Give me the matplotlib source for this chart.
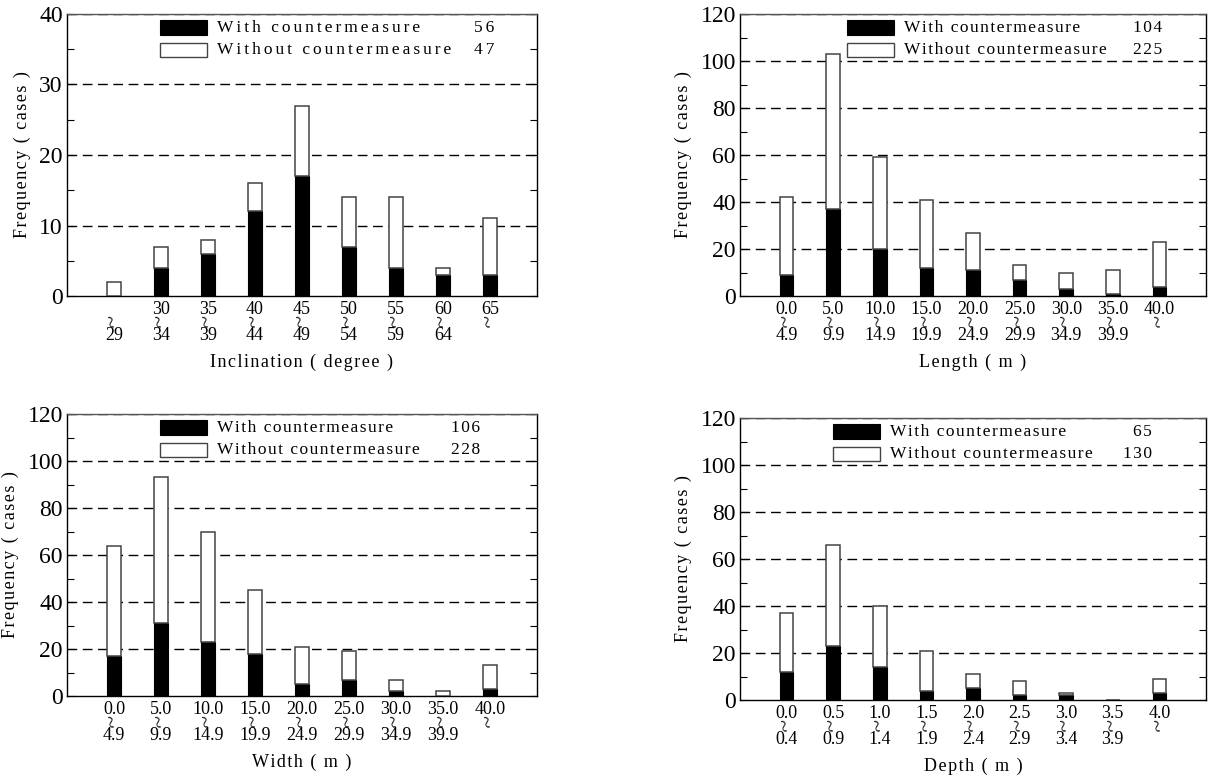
import matplotlib
matplotlib.use("Agg")
import matplotlib.pyplot as plt
from matplotlib.patches import Rectangle
from matplotlib.ticker import MultipleLocator, NullFormatter

plt.rcParams['font.family'] = ['Liberation Serif', 'DejaVu Serif']

# inclination
incl_labels = [("", "29"), ("30", "34"), ("35", "39"), ("40", "44"), ("45", "49"),
               ("50", "54"), ("55", "59"), ("60", "64"), ("65", "")]
incl_with = [0, 4, 6, 12, 17, 7, 4, 3, 3]
incl_total = [2, 7, 8, 16, 27, 14, 14, 4, 11]

# length
len_labels = [("0.0", "4.9"), ("5.0", "9.9"), ("10.0", "14.9"), ("15.0", "19.9"),
              ("20.0", "24.9"), ("25.0", "29.9"), ("30.0", "34.9"), ("35.0", "39.9"),
              ("40.0", "")]
len_with = [9, 37, 20, 12, 11, 7, 3, 1, 4]
len_total = [42, 103, 59, 41, 27, 13, 10, 11, 23]

# width
wid_labels = len_labels
wid_with = [17, 31, 23, 18, 5, 7, 2, 0, 3]
wid_total = [64, 93, 70, 45, 21, 19, 7, 2, 13]

# depth
dep_labels = [("0.0", "0.4"), ("0.5", "0.9"), ("1.0", "1.4"), ("1.5", "1.9"),
              ("2.0", "2.4"), ("2.5", "2.9"), ("3.0", "3.4"), ("3.5", "3.9"),
              ("4.0", "")]
dep_with = [12, 23, 14, 4, 5, 2, 2, 0, 3]
dep_total = [37, 66, 40, 21, 11, 8, 3, 0, 9]

W, H = 1208, 776
fig = plt.figure(figsize=(W / 100, H / 100), dpi=100)


def spaced(s, n=1):
    return ("\u200a" * n).join(s)


def panel(box, labels, with_cm, total, ymax, major, xlabel, legx, numx, legn):
    l, r, t, b = box
    ax = fig.add_axes([l / W, 1 - b / H, (r - l) / W, (b - t) / H])
    without = [tt - w for tt, w in zip(total, with_cm)]
    x = list(range(1, len(labels) + 1))
    ax.bar(x, with_cm, width=0.29, color="black", edgecolor="black", linewidth=0.8, zorder=3)
    ax.bar(x, without, bottom=with_cm, width=0.29, color="white",
           edgecolor="#444444", linewidth=1.1, zorder=3)
    ax.set_xlim(0, 10)
    ax.set_ylim(0, ymax)
    ax.yaxis.set_major_locator(MultipleLocator(major))
    ax.yaxis.set_minor_locator(MultipleLocator(major / 2))
    for yv in range(major, ymax + 1, major):
        ax.axhline(yv, color="black", lw=1.0, ls=(0, (7, 4)), zorder=1)
    ax.tick_params(axis="y", which="both", direction="in", right=True, length=5,
                   width=0.8, labelsize=17, pad=3)
    ax.set_xticks(x)
    ax.xaxis.set_major_formatter(NullFormatter())
    ax.tick_params(axis="x", length=0)
    hgt = b - t
    xt = ax.get_xaxis_transform()
    for xi, (lo, hi) in zip(x, labels):
        if lo:
            ax.text(xi, -13 / hgt, lo, transform=xt, fontsize=13, ha="center", va="center")
        ax.text(xi, -25 / hgt, "~", transform=xt, rotation=100,
                fontsize=17, ha="center", va="center")
        if hi:
            ax.text(xi, -39 / hgt, hi, transform=xt, fontsize=13, ha="center", va="center")
    for s in ax.spines.values():
        s.set_linewidth(1.0)
    ax.spines["top"].set_color("#555555")
    ax.text(0.5, -66 / hgt, spaced(xlabel), transform=ax.transAxes, fontsize=13,
            ha="center", va="center")
    ax.set_ylabel(spaced("Frequency ( cases )"), fontsize=13, labelpad=6)
    # legend drawn by hand
    ax.add_patch(Rectangle((legx, 0.926), 0.1, 0.052, transform=ax.transAxes,
                           facecolor="black", edgecolor="black", lw=0.8, zorder=5))
    ax.add_patch(Rectangle((legx, 0.848), 0.1, 0.05, transform=ax.transAxes,
                           facecolor="white", edgecolor="#444444", lw=1.0, zorder=5))
    ax.text(legx + 0.122, 0.952, spaced("With countermeasure", legn), transform=ax.transAxes,
            fontsize=12.5, va="center", ha="left", zorder=6)
    ax.text(legx + 0.122, 0.872, spaced("Without countermeasure", legn), transform=ax.transAxes,
            fontsize=12.5, va="center", ha="left", zorder=6)
    ax.text(numx, 0.952, spaced(str(sum(with_cm)), legn), transform=ax.transAxes,
            fontsize=12.5, va="center", ha="right", zorder=6)
    ax.text(numx, 0.872, spaced(str(sum(without)), legn), transform=ax.transAxes,
            fontsize=12.5, va="center", ha="right", zorder=6)
    return ax


panel((67, 537, 14, 296), incl_labels, incl_with, incl_total, 40, 10,
      "Inclination ( degree )", 0.198, 0.91, 2)
panel((740, 1206, 14, 296), len_labels, len_with, len_total, 120, 20,
      "Length ( m )", 0.23, 0.906, 1)
panel((67, 537, 414, 696), wid_labels, wid_with, wid_total, 120, 20,
      "Width ( m )", 0.198, 0.879, 1)
panel((740, 1206, 418, 700), dep_labels, dep_with, dep_total, 120, 20,
      "Depth ( m )", 0.2, 0.884, 1)

fig.savefig("out.png", dpi=100)
